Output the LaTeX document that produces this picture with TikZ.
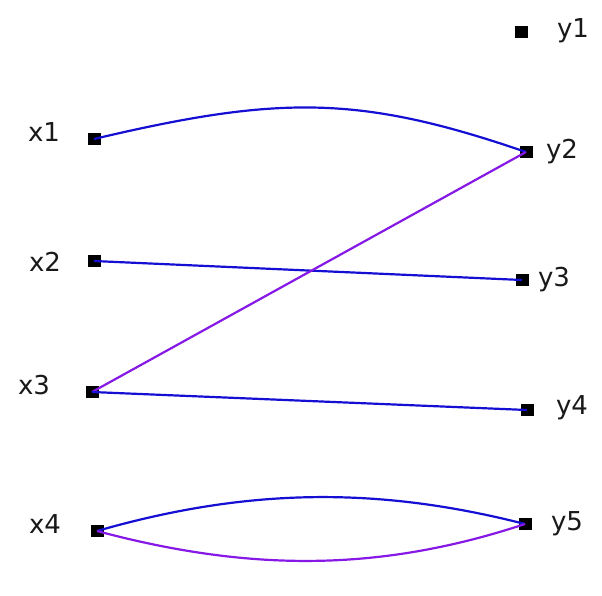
\documentclass[tikz,border=0pt]{standalone}
\usepackage{fontspec}
\setmainfont{DejaVu Sans}
\definecolor{eblue}{RGB}{20,15,210}
\definecolor{epurple}{RGB}{135,25,230}
\begin{document}
\begin{tikzpicture}[x=1pt,y=-1pt,
  vdot/.style={fill=black,draw=none,rectangle,minimum width=13pt,minimum height=12pt,inner sep=0pt},
  lbl/.style={font=\fontsize{26}{30}\selectfont,text=black!90,inner sep=0pt},
  bedge/.style={draw=eblue,line width=2.2pt},
  pedge/.style={draw=epurple,line width=2.2pt}]
\useasboundingbox[fill=white] (0,0) rectangle (602,595);
% vertices
\node[vdot] (x1) at (94,139) {};
\node[vdot] (x2) at (94,261) {};
\node[vdot] (x3) at (92,392) {};
\node[vdot] (x4) at (97,531) {};
\node[vdot] (y1) at (521,32) {};
\node[vdot] (y2) at (526,152) {};
\node[vdot] (y3) at (522,280) {};
\node[vdot] (y4) at (527,410) {};
\node[vdot] (y5) at (525,524) {};
% labels
\node[lbl] (lx1) at (44,132) {x1};
\node[lbl] (lx2) at (45,262) {x2};
\node[lbl] (lx3) at (34,385) {x3};
\node[lbl] (lx4) at (45,524) {x4};
\node[lbl] (ly1) at (573,31) {y1};
\node[lbl] (ly2) at (562,152) {y2};
\node[lbl] (ly3) at (554,280) {y3};
\node[lbl] (ly4) at (572,408) {y4};
\node[lbl] (ly5) at (567,524) {y5};
% edges
\draw[bedge] (x1.center) .. controls (280,95) and (360,95) .. (y2.center);
\draw[bedge] (x2.center) -- (y3.center);
\draw[pedge] (x3.center) -- (y2.center);
\draw[bedge] (x3.center) -- (y4.center);
\draw[bedge] (x4.center) .. controls (250,487) and (380,487) .. (y5.center);
\draw[pedge] (x4.center) .. controls (250,572) and (380,572) .. (y5.center);
\end{tikzpicture}
\end{document}
